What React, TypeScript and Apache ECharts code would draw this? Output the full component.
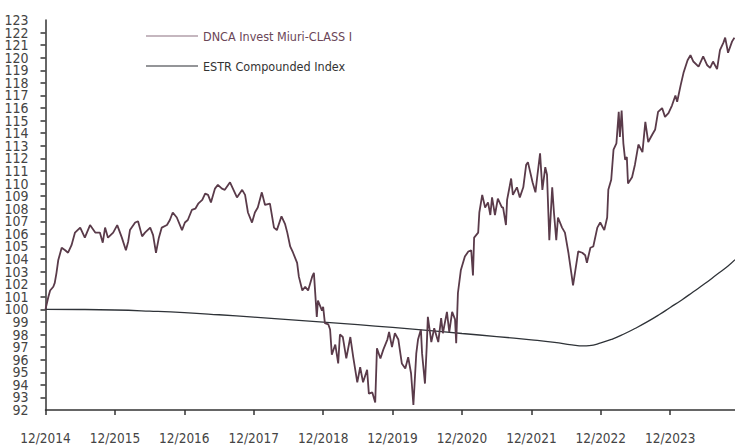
import React, { useEffect, useRef } from "react";
import * as echarts from "echarts";

// month offsets from Dec 2014 and values (DNCA Invest Miuri-CLASS I)
const fundMonths = [
  0, 0.2, 0.5, 0.8, 1.35, 1.6, 1.9, 2.2, 2.8, 3.4, 3.9, 4.5, 5.1, 6.0, 6.8, 7.7, 8.6, 9.4, 9.9, 10.3, 10.8,
  11.7, 12.4, 13.2, 13.9, 14.3, 14.6, 15.5, 16.0, 16.7, 17.2, 18.1, 18.6, 19.1, 19.6, 20.1, 21.0, 21.5, 22.0,
  22.7, 23.6, 24.1, 24.6, 25.3, 25.9, 26.4, 27.1, 27.6, 28.1, 28.6, 29.3, 29.8, 30.5, 31.0, 31.9, 32.4, 33.1,
  34.0, 34.5, 35.0, 35.7, 36.2, 36.7, 37.4, 37.95, 38.8, 39.5, 40.0, 40.8, 41.4, 41.8, 42.3, 42.8, 43.5, 43.8,
  44.4, 44.9, 45.4, 46.1, 46.4, 46.9, 47.1, 47.8, 48.0, 48.3, 48.9, 49.2, 49.5, 50.1, 50.6, 50.9, 51.4, 52.0,
  52.7, 53.2, 53.9, 54.4, 54.9, 55.6, 55.9, 56.5, 57.0, 57.3, 57.9, 58.4, 59.1, 59.4, 59.9, 60.4, 61.0, 61.6,
  62.2, 62.7, 63.2, 63.6, 64.1, 64.4, 64.9, 65.1, 65.6, 65.9, 66.1, 66.7, 67.2, 67.9, 68.4, 68.7, 69.4, 69.8,
  70.3, 70.8, 71.0, 71.3, 71.8, 72.5, 73.1, 73.6, 73.9, 74.1, 74.8, 75.0, 75.5, 76.0, 76.5, 76.9, 77.2, 77.7,
  78.2, 78.9, 79.1, 79.6, 79.8, 80.5, 80.8, 81.5, 82.0, 82.6, 83.1, 83.4, 84.2, 84.7, 85.0, 85.5, 85.9, 86.4,
  86.7, 87.1, 87.6, 87.9, 88.3, 88.6, 89.3, 89.8, 90.4, 90.9, 91.2, 91.6, 92.1, 92.8, 93.3, 93.6, 94.2, 94.7,
  95.4, 95.9, 96.6, 97.1, 97.3, 97.8, 98.2, 98.7, 99.1, 99.3, 99.6, 99.9, 100.2, 100.5, 100.7, 101.4, 101.9,
  102.5, 103.2, 103.7, 104.2, 104.9, 105.4, 105.9, 106.6, 107.1, 107.7, 108.3, 108.9, 109.2, 109.8, 110.3,
  111.0, 111.5, 112.0, 112.9, 113.7, 114.4, 114.9, 115.4, 116.1, 116.6, 117.2, 117.5, 118.0, 118.7, 119.1,
];
const fundValues = [
  100.0, 100.4, 101.0, 101.5, 101.8, 102.1, 102.9, 103.9, 104.9, 104.7, 104.5, 105.1, 106.1, 106.5, 105.7,
  106.7, 106.1, 106.1, 105.3, 106.5, 105.7, 106.1, 106.7, 105.7, 104.7, 105.4, 106.3, 106.9, 107.0, 105.8,
  106.1, 106.5, 105.9, 104.5, 105.7, 106.5, 106.7, 107.1, 107.7, 107.3, 106.3, 106.9, 107.1, 107.9, 108.0,
  108.4, 108.7, 109.2, 109.1, 108.5, 109.6, 109.9, 109.6, 109.5, 110.1, 109.6, 108.9, 109.5, 109.1, 107.7,
  106.9, 107.7, 108.1, 109.3, 108.3, 108.4, 106.5, 106.3, 107.4, 106.8, 106.1, 105.0, 104.5, 103.7, 102.6,
  101.5, 101.8, 101.5, 102.6, 102.9, 99.4, 100.7, 99.9, 100.2, 98.9, 98.8, 98.4, 96.4, 97.2, 95.7, 98.0,
  97.8, 96.1, 97.8, 96.2, 94.2, 95.4, 94.2, 95.2, 93.3, 93.4, 92.6, 96.9, 96.1, 96.8, 97.6, 98.2, 97.0,
  98.1, 97.6, 95.7, 95.3, 96.2, 94.9, 92.4, 96.5, 97.6, 98.4, 96.5, 94.1, 97.0, 99.4, 97.4, 98.5, 97.4,
  99.3, 98.1, 99.8, 98.2, 99.8, 99.2, 97.3, 101.3, 103.1, 104.2, 104.6, 104.7, 102.7, 105.7, 106.1, 107.7,
  109.1, 108.1, 108.5, 107.5, 108.9, 107.5, 108.8, 108.1, 108.1, 106.7, 108.7, 110.4, 109.1, 109.7, 108.9,
  109.7, 111.5, 111.7, 110.1, 109.3, 110.5, 112.4, 109.5, 111.3, 110.7, 105.5, 109.7, 107.7, 105.5, 107.3,
  106.5, 106.1, 104.5, 102.9, 101.9, 103.1, 104.6, 104.5, 104.3, 103.7, 104.9, 105.0, 106.5, 106.9, 106.3,
  107.3, 109.5, 110.3, 112.7, 113.2, 115.7, 113.7, 115.8, 113.2, 111.9, 112.1, 110.0, 110.5, 111.5, 113.1,
  112.5, 114.9, 113.3, 113.9, 114.3, 115.7, 116.0, 115.3, 115.6, 116.2, 117.0, 116.5, 117.8, 118.8, 119.8,
  120.2, 119.7, 119.3, 120.1, 119.4, 119.2, 119.7, 119.1, 120.6, 121.2, 121.6, 120.4, 121.3, 121.6,
];

// ESTR Compounded Index
const estrMonths = [
  0, 6, 12, 18, 24, 30, 36, 42, 48, 54, 60, 66, 72, 78, 84, 88, 91, 93, 94, 96, 98, 100, 102, 104, 106, 108,
  110, 112, 114, 116, 118, 119.2,
];
const estrValues = [
  100.0, 99.99, 99.95, 99.86, 99.74, 99.57, 99.38, 99.18, 98.98, 98.78, 98.56, 98.33, 98.08, 97.84, 97.58,
  97.38, 97.18, 97.1, 97.12, 97.33, 97.64, 98.04, 98.5, 99.0, 99.55, 100.15, 100.75, 101.4, 102.05, 102.75,
  103.45, 103.95,
];

const yMin = 92;
const yMax = 123;
const xMin = 0;
const xMax = 119.2;
const firstYear = 2014;

const seriesNames = ["DNCA Invest Miuri-CLASS I", "ESTR Compounded Index"];

const FONT = "'DejaVu Sans Condensed', 'Liberation Sans Narrow', sans-serif";

const yLabelStyle = {
  margin: 17,
  color: "#444444",
  fontFamily: FONT,
  fontSize: 14,
  lineHeight: 11,
  hideOverlap: false,
};

export default function App() {
  const ref = useRef<HTMLDivElement>(null);
  useEffect(() => {
    document.body.style.margin = "0";
    if (!ref.current) return;
    const chart = echarts.init(ref.current, undefined, { renderer: "svg" });
    const fund = fundMonths.map((m, i) => [m, fundValues[i]]);
    const estr = estrMonths.map((m, i) => [m, estrValues[i]]);
    chart.setOption({
      animation: false,
      backgroundColor: "#ffffff",
      grid: { left: 45.5, top: 20, right: 0, bottom: 35 },
      legend: {
        orient: "vertical",
        left: 141,
        top: 23,
        itemWidth: 52,
        itemHeight: 1,
        itemGap: 14,
        icon: "rect",
        selectedMode: false,
        textStyle: { fontFamily: FONT, fontSize: 12.5, lineHeight: 16, padding: [0, 0, 0, 0] },
        data: [
          {
            name: seriesNames[0],
            itemStyle: { color: "#8c7080" },
            textStyle: { color: "#6a4657" },
          },
          {
            name: seriesNames[1],
            itemStyle: { color: "#2a2d33" },
            textStyle: { color: "#333333" },
          },
        ],
      },
      xAxis: {
        type: "value",
        min: xMin,
        max: xMax,
        interval: 12,
        splitLine: { show: false },
        axisLine: { lineStyle: { color: "#333333", width: 1.5 } },
        axisTick: { length: 5, lineStyle: { color: "#333333", width: 1.5 } },
        axisLabel: {
          margin: 21,
          color: "#444444",
          fontFamily: FONT,
          fontSize: 13.5,
          showMaxLabel: false,
          hideOverlap: false,
          formatter: (v: number) => "12/" + (firstYear + Math.round(v / 12)),
        },
      },
      yAxis: [
        {
          type: "value",
          min: yMin,
          max: yMax,
          interval: 1,
          splitLine: { show: false },
          axisLine: { show: true, lineStyle: { color: "#333333", width: 1.5 } },
          axisTick: { show: true, length: 5, lineStyle: { color: "#333333", width: 1.5 } },
          axisLabel: { ...yLabelStyle, interval: 0, showMinLabel: false, showMaxLabel: false },
        },
        {
          type: "value",
          position: "left",
          min: yMin,
          max: yMax,
          interval: yMax - yMin,
          splitLine: { show: false },
          axisLine: { show: false },
          axisTick: { show: false },
          axisLabel: { ...yLabelStyle, showMinLabel: true, showMaxLabel: true },
        },
      ],
      series: [
        {
          name: seriesNames[0],
          type: "line",
          data: fund,
          showSymbol: false,
          lineStyle: { color: "#5a3b4a", width: 1.8 },
          itemStyle: { color: "#5a3b4a" },
          z: 3,
        },
        {
          name: seriesNames[1],
          type: "line",
          data: estr,
          smooth: true,
          showSymbol: false,
          lineStyle: { color: "#2f3338", width: 1.3 },
          itemStyle: { color: "#2f3338" },
          z: 2,
        },
      ],
    });
    return () => chart.dispose();
  }, []);
  return <div ref={ref} style={{ width: 735, height: 445, position: "fixed", left: 0, top: 0 }} />;
}
